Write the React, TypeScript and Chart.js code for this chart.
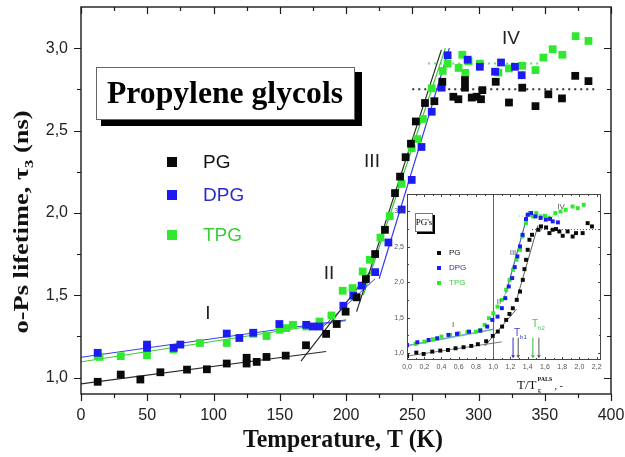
import React, { useEffect, useRef } from "react";
import { Chart, registerables } from "chart.js";
Chart.register(...registerables);

// ---------------- main chart data ----------------
const xTickValues = [0, 50, 100, 150, 200, 250, 300, 350, 400];
const yTickValues = [1.0, 1.5, 2.0, 2.5, 3.0];

const pgT = [12.6, 30, 44.8, 59.9, 80, 95, 110, 125, 125, 132.6, 140, 154.5, 169.8, 185, 193, 199.7, 208, 215, 222, 229.4, 237, 240.8, 245, 249, 252.7, 259.6, 266.7, 272.7, 281, 284.8, 289.8, 289.8, 294.9, 298.6, 301.9, 302.9, 313, 323, 333, 343, 352.7, 363, 373, 383];
const pgTau = [0.974, 1.018, 0.988, 1.032, 1.048, 1.05, 1.085, 1.12, 1.085, 1.095, 1.125, 1.133, 1.196, 1.265, 1.325, 1.40, 1.487, 1.598, 1.75, 1.897, 2.12, 2.22, 2.338, 2.42, 2.555, 2.667, 2.678, 2.796, 2.705, 2.69, 2.806, 2.76, 2.70, 2.705, 2.69, 2.745, 2.796, 2.67, 2.76, 2.648, 2.72, 2.695, 2.832, 2.80];

const dpgT = [12.6, 49.8, 49.8, 70, 75, 110, 119.5, 130, 149.7, 170, 175, 180, 198, 205.5, 211.8, 222, 232, 242, 249.6, 257, 264.7, 272.2, 276.7, 291.8, 301, 312.5, 317, 327.5, 332.6];
const dpgTau = [1.15, 1.2, 1.18, 1.18, 1.2, 1.267, 1.24, 1.272, 1.325, 1.32, 1.31, 1.31, 1.436, 1.497, 1.558, 1.64, 1.82, 2.02, 2.2, 2.40, 2.614, 2.76, 2.957, 2.93, 2.887, 2.857, 2.913, 2.887, 2.836];

const tpgT = [12.6, 14, 30, 49.8, 69.7, 89.8, 110, 130, 140, 150, 155, 160, 170, 180, 189, 197.5, 205, 212.6, 218, 226, 233, 242, 249.6, 253.8, 258, 264.7, 273, 276.7, 285, 287.8, 290, 292.5, 301, 315, 323, 333, 343, 349, 356, 363.3, 373.3, 383];
const tpgTau = [1.135, 1.125, 1.13, 1.135, 1.17, 1.21, 1.21, 1.265, 1.252, 1.29, 1.30, 1.32, 1.31, 1.34, 1.377, 1.527, 1.543, 1.644, 1.715, 1.85, 1.98, 2.176, 2.392, 2.448, 2.57, 2.756, 2.862, 2.906, 2.88, 2.96, 2.85, 2.92, 2.906, 2.852, 2.877, 2.893, 2.867, 2.943, 2.994, 2.96, 3.073, 3.044];

// fitted lines (T endpoints, tau endpoints)
const pgFitI_T = [0, 185], pgFitI_tau = [0.962, 1.158];
const pgFitII_T = [166, 218], pgFitII_tau = [1.10, 1.64];
const pgFitIII_T = [208, 272], pgFitIII_tau = [1.40, 2.99];
const dpgFitI_T = [0, 200], dpgFitI_tau = [1.123, 1.35];
const dpgFitII_T = [180, 222], dpgFitII_tau = [1.29, 1.60];
const dpgFitIII_T = [225, 278], dpgFitIII_tau = [1.60, 3.0];
const tpgFitI_T = [0, 200], tpgFitI_tau = [1.095, 1.345];
const tpgFitIII_T = [213, 275], tpgFitIII_tau = [1.50, 3.0];
const pgPlateau_T = [250, 390], pgPlateau_tau = [2.75, 2.75];
const tpgPlateau_T = [262, 345], tpgPlateau_tau = [2.907, 2.907];

const seriesNames = ["PG", "DPG", "TPG"];
const seriesColors = ["#0a0a0a", "#1c1cf0", "#30e830"];
const seriesTextColors = ["#111111", "#2a2ad0", "#38d038"];
const fitColors = ["#2a2a2a", "#3a3af0", "#33cc33"];
const romanLabels = ["I", "II", "III", "IV"];

// ---------------- inset data ----------------
const insetXTicks = [0, 0.2, 0.4, 0.6, 0.8, 1.0, 1.2, 1.4, 1.6, 1.8, 2.0, 2.2];
const insetYTicks = [1.0, 1.5, 2.0, 2.5, 3.0];

const inPgX = [0.0, 0.108, 0.193, 0.293, 0.386, 0.475, 0.563, 0.656, 0.745, 0.822, 0.918, 0.995, 1.053, 1.103, 1.15, 1.188, 1.227, 1.273, 1.311, 1.343, 1.362, 1.381, 1.40, 1.42, 1.45, 1.524, 1.554, 1.613, 1.652, 1.69, 1.728, 1.767, 1.806, 1.863, 1.921, 1.96, 2.037, 2.095, 2.145];
const inPgY = [0.962, 1.009, 0.99, 1.023, 1.037, 1.046, 1.07, 1.085, 1.103, 1.127, 1.169, 1.244, 1.305, 1.375, 1.469, 1.553, 1.633, 1.751, 1.868, 2.032, 2.183, 2.314, 2.455, 2.596, 2.666, 2.737, 2.784, 2.77, 2.69, 2.737, 2.747, 2.713, 2.652, 2.713, 2.642, 2.69, 2.69, 2.83, 2.784];

const inDpgX = [0.0, 0.12, 0.25, 0.35, 0.48, 0.58, 0.72, 0.85, 0.93, 0.99, 1.05, 1.1, 1.14, 1.18, 1.22, 1.25, 1.28, 1.31, 1.34, 1.38, 1.40, 1.44, 1.49, 1.55, 1.61, 1.66, 1.69, 1.75];
const inDpgY = [1.117, 1.155, 1.187, 1.211, 1.258, 1.272, 1.304, 1.318, 1.375, 1.469, 1.515, 1.634, 1.775, 1.939, 2.057, 2.212, 2.362, 2.503, 2.666, 2.887, 2.948, 2.972, 2.925, 2.903, 2.879, 2.889, 2.855, 2.841];

const inTpgX = [0.0, 0.1, 0.2, 0.3, 0.4, 0.5, 0.6, 0.7, 0.8, 0.85, 0.9, 0.95, 1.0, 1.05, 1.1, 1.15, 1.19, 1.23, 1.27, 1.31, 1.34, 1.38, 1.42, 1.46, 1.5, 1.55, 1.6, 1.65, 1.72, 1.78, 1.84, 1.92, 1.98, 2.05];
const inTpgY = [1.107, 1.131, 1.163, 1.197, 1.234, 1.258, 1.282, 1.3, 1.304, 1.328, 1.399, 1.493, 1.563, 1.656, 1.751, 1.892, 2.032, 2.174, 2.315, 2.455, 2.643, 2.831, 2.948, 2.925, 2.972, 2.925, 2.934, 2.901, 2.972, 2.994, 3.018, 3.064, 3.041, 3.088];

const inPgFitI_X = [0, 1.1], inPgFitI_Y = [0.96, 1.16];
const inPgFitII_X = [0.9, 1.27], inPgFitII_Y = [1.10, 1.62];
const inPgFitIII_X = [1.27, 1.52], inPgFitIII_Y = [1.75, 2.80];
const inDpgFitI_X = [0, 1.0], inDpgFitI_Y = [1.11, 1.34];
const inTpgFitI_X = [0, 1.0], inTpgFitI_Y = [1.10, 1.33];
const inDpgFitIII_X = [1.15, 1.41], inDpgFitIII_Y = [1.85, 3.0];
const inTpgFitIII_X = [1.12, 1.40], inTpgFitIII_Y = [1.75, 2.95];
const inPgPlateau_X = [1.45, 2.25], inPgPlateau_Y = [2.74, 2.74];
const inTpgPlateau_X = [1.3, 1.8], inTpgPlateau_Y = [2.93, 2.93];

const insetArrowX = [1.23, 1.29, 1.46, 1.53];
const insetArrowColors = ["#2a2ad0", "#555555", "#33bb33", "#555555"];
const insetArrowY = [1.22, 0.93];

// ---------------- helpers ----------------
const SANS = '"Liberation Sans", Arial, sans-serif';
const SERIF = '"Liberation Serif", "Times New Roman", serif';

function pts(xs: number[], ys: number[]) {
  return xs.map((x, i) => ({ x, y: ys[i] }));
}
function comma(v: number) {
  return v.toFixed(1).replace(".", ",");
}
function scatterSet(xs: number[], ys: number[], color: string, r: number) {
  return {
    data: pts(xs, ys),
    backgroundColor: color,
    borderColor: color,
    borderWidth: 0,
    pointStyle: "rect",
    pointRadius: r,
    showLine: false,
  };
}
function lineSet(xs: number[], ys: number[], color: string, w: number, dash?: number[]) {
  return {
    data: pts(xs, ys),
    borderColor: color,
    backgroundColor: color,
    borderWidth: w,
    borderDash: dash || [],
    pointRadius: 0,
    showLine: true,
    fill: false,
  };
}
function fitText(ctx: CanvasRenderingContext2D, text: string, x: number, y: number, targetW: number) {
  const w = ctx.measureText(text).width;
  ctx.save();
  ctx.translate(x, y);
  ctx.scale(targetW / w, 1);
  ctx.textAlign = "center";
  ctx.fillText(text, 0, 0);
  ctx.restore();
}
function noPad(s: any) {
  s.paddingTop = 0;
  s.paddingBottom = 0;
  s.paddingLeft = 0;
  s.paddingRight = 0;
}

const mainPlugin = {
  id: "mainDecor",
  afterDraw(chart: any) {
    const { ctx, chartArea: a } = chart;
    const sx = chart.scales.x, sy = chart.scales.y;
    ctx.save();
    // frame
    ctx.strokeStyle = "#1a1a1a";
    ctx.lineWidth = 1.4;
    ctx.strokeRect(a.left, a.top, a.right - a.left, a.bottom - a.top);
    // ticks
    ctx.lineWidth = 1.2;
    ctx.beginPath();
    for (let v = sx.min; v <= sx.max + 1e-6; v += 25) {
      const p = Math.round(sx.getPixelForValue(v)) + 0.5;
      const L = Math.abs(v % 50) < 1e-6 ? 7 : 4;
      ctx.moveTo(p, a.bottom); ctx.lineTo(p, a.bottom + L);
      ctx.moveTo(p, a.top); ctx.lineTo(p, a.top + L);
    }
    for (let v = 1.0; v <= 3.2 + 1e-6; v += 0.25) {
      const p = Math.round(sy.getPixelForValue(v)) + 0.5;
      const major = Math.abs(v * 2 - Math.round(v * 2)) < 1e-6;
      const L = major ? 7 : 4;
      ctx.moveTo(a.left, p); ctx.lineTo(a.left - L, p);
      ctx.moveTo(a.right, p); ctx.lineTo(a.right - L, p);
    }
    ctx.stroke();

    // title box with shadow
    ctx.fillStyle = "#000";
    ctx.fillRect(101, 72, 261, 54);
    ctx.fillStyle = "#fff";
    ctx.fillRect(96, 67, 259, 53);
    ctx.strokeStyle = "#666";
    ctx.lineWidth = 1;
    ctx.strokeRect(96.5, 67.5, 258, 52);
    ctx.fillStyle = "#000";
    ctx.font = `bold 32px ${SERIF}`;
    ctx.textBaseline = "alphabetic";
    fitText(ctx, "Propylene glycols", 225, 103, 236);

    // legend
    const ly = [162, 195, 235];
    for (let i = 0; i < seriesNames.length; i++) {
      ctx.fillStyle = seriesColors[i];
      ctx.fillRect(167, ly[i] - 5, 10, 10);
      ctx.fillStyle = seriesTextColors[i];
      ctx.font = `19px ${SANS}`;
      ctx.textAlign = "left";
      ctx.textBaseline = "middle";
      ctx.fillText(seriesNames[i], 203, ly[i] + 1);
    }

    // roman labels
    const rpos = [[208, 314], [329, 274], [372, 162], [511, 39]];
    ctx.fillStyle = "#222";
    ctx.font = `19px ${SANS}`;
    ctx.textAlign = "center";
    ctx.textBaseline = "middle";
    romanLabels.forEach((t, i) => ctx.fillText(t, rpos[i][0], rpos[i][1]));

    // x title
    ctx.fillStyle = "#111";
    ctx.font = `bold 25px ${SERIF}`;
    ctx.textBaseline = "alphabetic";
    fitText(ctx, "Temperature, T (K)", 343, 447, 200);

    // y title with subscript
    ctx.save();
    ctx.translate(21, 222);
    ctx.rotate(-Math.PI / 2);
    const big = `bold 21px ${SERIF}`;
    const small = `bold 13px ${SERIF}`;
    const p1 = "o-Ps lifetime, \u03C4", p2 = "3", p3 = " (ns)";
    ctx.font = big;
    const w1 = ctx.measureText(p1).width, w3 = ctx.measureText(p3).width;
    ctx.font = small;
    const w2 = ctx.measureText(p2).width;
    const total = w1 + w2 + w3;
    ctx.scale(223 / total, 1);
    let cx = -total / 2;
    ctx.textAlign = "left";
    ctx.textBaseline = "alphabetic";
    ctx.font = big; ctx.fillText(p1, cx, 7); cx += w1;
    ctx.font = small; ctx.fillText(p2, cx, 12); cx += w2;
    ctx.font = big; ctx.fillText(p3, cx, 7);
    ctx.restore();

    ctx.restore();
  },
};

// inset canvas placement
const INSET_LEFT = 380, INSET_TOP = 186, INSET_W = 235, INSET_H = 214;

const insetPlugin = {
  id: "insetDecor",
  beforeDraw(chart: any) {
    const { ctx, chartArea: a } = chart;
    ctx.save();
    ctx.fillStyle = "#fff";
    ctx.fillRect(a.left, a.top, a.right - a.left, a.bottom - a.top);
    ctx.restore();
  },
  beforeDatasetsDraw(chart: any) {
    const { ctx, chartArea: a } = chart;
    const sx = chart.scales.x;
    ctx.save();
    ctx.strokeStyle = "#666";
    ctx.lineWidth = 1;
    const p = Math.round(sx.getPixelForValue(1.0)) + 0.5;
    ctx.beginPath();
    ctx.moveTo(p, a.top); ctx.lineTo(p, a.bottom);
    ctx.stroke();
    ctx.restore();
  },
  afterDraw(chart: any) {
    const { ctx, chartArea: a } = chart;
    const sx = chart.scales.x, sy = chart.scales.y;
    ctx.save();
    ctx.strokeStyle = "#444";
    ctx.lineWidth = 1;
    ctx.strokeRect(a.left + 0.5, a.top + 0.5, a.right - a.left - 1, a.bottom - a.top - 1);
    ctx.beginPath();
    for (let v = 0; v <= sx.max + 1e-6; v += 0.1) {
      const p = Math.round(sx.getPixelForValue(v)) + 0.5;
      const L = Math.abs(v * 5 - Math.round(v * 5)) < 1e-6 ? 3 : 2;
      ctx.moveTo(p, a.bottom); ctx.lineTo(p, a.bottom - L);
      ctx.moveTo(p, a.top); ctx.lineTo(p, a.top + L);
    }
    for (let v = 1.0; v <= 3.2 + 1e-6; v += 0.25) {
      const p = Math.round(sy.getPixelForValue(v)) + 0.5;
      const L = Math.abs(v * 2 - Math.round(v * 2)) < 1e-6 ? 3 : 2;
      ctx.moveTo(a.left, p); ctx.lineTo(a.left + L, p);
      ctx.moveTo(a.right, p); ctx.lineTo(a.right - L, p);
    }
    ctx.stroke();

    // arrows
    insetArrowX.forEach((xv, i) => {
      const px = sx.getPixelForValue(xv);
      const y0 = sy.getPixelForValue(insetArrowY[0]);
      const y1 = sy.getPixelForValue(insetArrowY[1]);
      ctx.strokeStyle = insetArrowColors[i];
      ctx.fillStyle = insetArrowColors[i];
      ctx.lineWidth = 1;
      ctx.beginPath();
      ctx.moveTo(px, y0); ctx.lineTo(px, y1 - 2);
      ctx.stroke();
      ctx.beginPath();
      ctx.moveTo(px - 1.8, y1 - 3); ctx.lineTo(px + 1.8, y1 - 3); ctx.lineTo(px, y1);
      ctx.closePath();
      ctx.fill();
    });

    // T_b labels
    const tb = [["b1", 134, 150, "#3a3ae0"], ["b2", 152, 141, "#44cc44"]] as any[];
    tb.forEach(([sub, x, y, col]) => {
      ctx.fillStyle = col;
      ctx.textAlign = "left";
      ctx.textBaseline = "alphabetic";
      ctx.font = `10px ${SANS}`;
      ctx.fillText("T", x, y);
      const w = ctx.measureText("T").width;
      ctx.font = `6px ${SANS}`;
      ctx.fillText(sub, x + w, y + 3);
    });

    // PG's box
    ctx.fillStyle = "#000";
    ctx.fillRect(37, 29, 18, 19);
    ctx.fillStyle = "#fff";
    ctx.fillRect(35, 27, 18, 19);
    ctx.strokeStyle = "#777";
    ctx.strokeRect(35.5, 27.5, 17, 18);
    ctx.fillStyle = "#000";
    ctx.font = `9px ${SERIF}`;
    ctx.textAlign = "center";
    ctx.textBaseline = "middle";
    ctx.fillText("PG's", 44, 37);

    // legend
    const ly = [67, 82, 97];
    seriesNames.forEach((n, i) => {
      ctx.fillStyle = seriesColors[i];
      ctx.fillRect(57, ly[i] - 2, 4, 4);
      ctx.fillStyle = seriesTextColors[i];
      ctx.font = `8px ${SANS}`;
      ctx.textAlign = "left";
      ctx.textBaseline = "middle";
      ctx.fillText(n, 69, ly[i]);
    });

    // roman labels
    const rpos = [[73, 139], [119, 116], [133, 67], [181, 21]];
    ctx.fillStyle = "#555";
    ctx.font = `8px ${SANS}`;
    ctx.textAlign = "center";
    ctx.textBaseline = "middle";
    romanLabels.forEach((t, i) => ctx.fillText(t, rpos[i][0], rpos[i][1]));

    // x title T/Tg^PALS, -
    ctx.fillStyle = "#111";
    ctx.textAlign = "left";
    ctx.textBaseline = "alphabetic";
    ctx.font = `13px ${SERIF}`;
    ctx.fillText("T/T", 137, 203);
    const tw = ctx.measureText("T/T").width;
    const x2 = 137 + tw + 1;
    ctx.font = `bold 6px ${SERIF}`;
    ctx.fillText("PALS", x2, 195);
    const pw = ctx.measureText("PALS").width;
    ctx.font = `7px ${SERIF}`;
    ctx.fillText("g", x2, 206);
    ctx.font = `10px ${SERIF}`;
    ctx.fillText(", -", x2 + pw + 2, 203);
    ctx.restore();
  },
};

export default function App() {
  const mainRef = useRef<HTMLCanvasElement>(null);
  const insetRef = useRef<HTMLCanvasElement>(null);

  useEffect(() => {
    const main = new Chart(mainRef.current as HTMLCanvasElement, {
      type: "scatter",
      data: {
        datasets: [
          scatterSet(pgT, pgTau, seriesColors[0], 5.5),
          scatterSet(dpgT, dpgTau, seriesColors[1], 5.5),
          scatterSet(tpgT, tpgTau, seriesColors[2], 5.5),
          lineSet(pgFitI_T, pgFitI_tau, fitColors[0], 1.2),
          lineSet(pgFitII_T, pgFitII_tau, fitColors[0], 1.2),
          lineSet(pgFitIII_T, pgFitIII_tau, fitColors[0], 1.2),
          lineSet(dpgFitI_T, dpgFitI_tau, fitColors[1], 1),
          lineSet(dpgFitII_T, dpgFitII_tau, fitColors[1], 1),
          lineSet(dpgFitIII_T, dpgFitIII_tau, fitColors[1], 1.2),
          lineSet(tpgFitI_T, tpgFitI_tau, fitColors[2], 1),
          lineSet(tpgFitIII_T, tpgFitIII_tau, fitColors[2], 1.2),
          lineSet(pgPlateau_T, pgPlateau_tau, "#333", 2, [2, 4]),
          lineSet(tpgPlateau_T, tpgPlateau_tau, "#66dd66", 2, [2, 4]),
        ] as any,
      },
      options: {
        responsive: false,
        animation: false,
        events: [],
        layout: { autoPadding: false, padding: { left: 0, top: 7, right: 14, bottom: 0 } },
        plugins: { legend: { display: false }, tooltip: { enabled: false }, title: { display: false } },
        scales: {
          x: {
            type: "linear",
            min: 0,
            max: 400,
            grid: { display: false, drawTicks: false },
            border: { display: false },
            afterBuildTicks: (s: any) => { s.ticks = xTickValues.map((v) => ({ value: v })); },
            afterFit: (s: any) => { s.height = 63; noPad(s); },
            ticks: { padding: 12, color: "#222", font: { family: SANS, size: 16 }, callback: (v: any) => String(v), maxRotation: 0, autoSkip: false },
          },
          y: {
            type: "linear",
            min: 0.9,
            max: 3.25,
            grid: { display: false, drawTicks: false },
            border: { display: false },
            afterBuildTicks: (s: any) => { s.ticks = yTickValues.map((v) => ({ value: v })); },
            afterFit: (s: any) => { s.width = 81; noPad(s); },
            ticks: { padding: 13, color: "#222", font: { family: SANS, size: 16 }, callback: (v: any) => comma(Number(v)), autoSkip: false },
          },
        },
      } as any,
      plugins: [mainPlugin],
    });

    const inset = new Chart(insetRef.current as HTMLCanvasElement, {
      type: "scatter",
      data: {
        datasets: [
          scatterSet(inPgX, inPgY, seriesColors[0], 2.8),
          scatterSet(inDpgX, inDpgY, seriesColors[1], 2.8),
          scatterSet(inTpgX, inTpgY, seriesColors[2], 2.8),
          lineSet(inPgFitI_X, inPgFitI_Y, "#555", 0.8),
          lineSet(inPgFitII_X, inPgFitII_Y, "#333", 0.8),
          lineSet(inPgFitIII_X, inPgFitIII_Y, "#333", 0.8),
          lineSet(inDpgFitI_X, inDpgFitI_Y, "#6a6af0", 0.8),
          lineSet(inTpgFitI_X, inTpgFitI_Y, "#55cc55", 0.8),
          lineSet(inDpgFitIII_X, inDpgFitIII_Y, "#3a3af0", 0.8),
          lineSet(inTpgFitIII_X, inTpgFitIII_Y, "#44cc44", 0.8),
          lineSet(inPgPlateau_X, inPgPlateau_Y, "#555", 1, [1, 2]),
          lineSet(inTpgPlateau_X, inTpgPlateau_Y, "#66dd66", 1, [1, 2]),
        ] as any,
      },
      options: {
        responsive: false,
        animation: false,
        events: [],
        layout: { autoPadding: false, padding: { left: 0, top: 8, right: 14, bottom: 0 } },
        plugins: { legend: { display: false }, tooltip: { enabled: false } },
        scales: {
          x: {
            type: "linear",
            min: 0,
            max: 2.25,
            grid: { display: false, drawTicks: false },
            border: { display: false },
            afterBuildTicks: (s: any) => { s.ticks = insetXTicks.map((v) => ({ value: v })); },
            afterFit: (s: any) => { s.height = 40; noPad(s); },
            ticks: { padding: 3, color: "#555", font: { family: SANS, size: 7 }, callback: (v: any) => comma(Number(v)), maxRotation: 0, autoSkip: false },
          },
          y: {
            type: "linear",
            min: 0.905,
            max: 3.24,
            grid: { display: false, drawTicks: false },
            border: { display: false },
            afterBuildTicks: (s: any) => { s.ticks = insetYTicks.map((v) => ({ value: v })); },
            afterFit: (s: any) => { s.width = 27; noPad(s); },
            ticks: { padding: 3, color: "#555", font: { family: SANS, size: 7 }, callback: (v: any) => comma(Number(v)), autoSkip: false },
          },
        },
      } as any,
      plugins: [insetPlugin],
    });

    return () => {
      main.destroy();
      inset.destroy();
    };
  }, []);

  return (
    <div style={{ position: "fixed", left: 0, top: 0, width: 625, height: 457, background: "#fff" }}>
      <canvas ref={mainRef} width={625} height={457} style={{ position: "absolute", left: 0, top: 0, width: 625, height: 457 }} />
      <canvas
        ref={insetRef}
        width={INSET_W}
        height={INSET_H}
        style={{ position: "absolute", left: INSET_LEFT, top: INSET_TOP, width: INSET_W, height: INSET_H }}
      />
    </div>
  );
}
